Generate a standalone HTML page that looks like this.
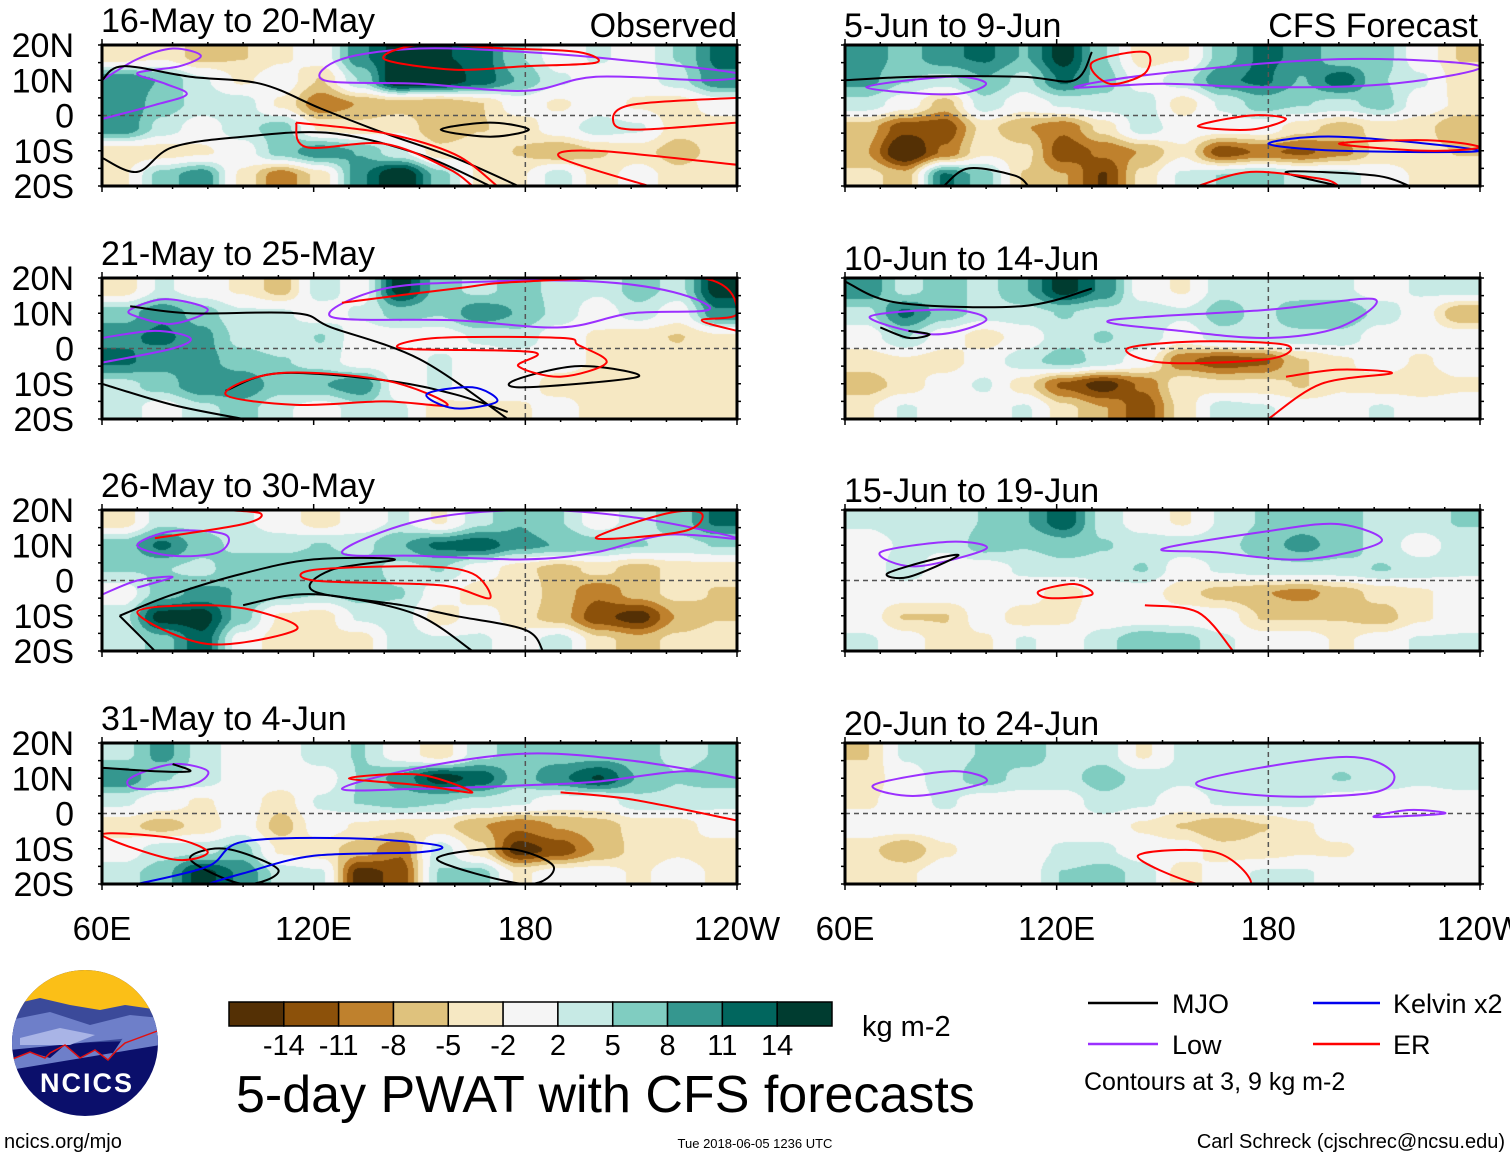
<!DOCTYPE html>
<html><head><meta charset="utf-8">
<style>
html,body{margin:0;padding:0;background:#fff;}
body{width:1510px;height:1158px;position:relative;overflow:hidden;font-family:"Liberation Sans",Arial,sans-serif;}
canvas{position:absolute;}
svg{position:absolute;left:0;top:0;}
</style></head>
<body>
<div id="maps"></div>
<svg id="ov" width="1510" height="1158" font-family="Liberation Sans, Arial, sans-serif"></svg>
<script>
// ---- data ----
const levelBounds=[-14,-11,-8,-5,-2,2,5,8,11,14];
const levelColors=["#543005","#8c510a","#bf812d","#dfc27d","#f6e8c3","#f5f5f5","#c7eae5","#80cdc1","#35978f","#01665e","#003c30"];
const latTicks=["20N","10N","0","10S","20S"];
const latTickVals=[20,10,0,-10,-20];
const lonTicks=["60E","120E","180","120W"];
const lonTickVals=[60,120,180,240];
const panelTitles=["16-May to 20-May","21-May to 25-May","26-May to 30-May","31-May to 4-Jun","5-Jun to 9-Jun","10-Jun to 14-Jun","15-Jun to 19-Jun","20-Jun to 24-Jun"];
const gridLats=[17,10,3,-3,-10,-17];
const f16May=[[-3,-2,-5,-4,-2,0,8,12,11,10,4,0,2,0,4,9],[8,6,2,-2,0,-4,4,14,13,10,6,2,0,0,3,8],[8,5,3,3,-2,-8,-6,-5,-6,-4,0,-2,0,-2,-3,0],[8,3,0,3,5,-2,-3,-2,-6,-4,-3,0,3,2,-3,-3],[-3,-3,-2,0,5,8,6,2,-3,-2,-4,-6,-4,-3,-5,-3],[-2,5,8,-2,-8,-3,8,14,5,-2,-2,3,-3,0,-3,-2]];
const f21May=[[-3,2,0,-2,-5,3,0,12,5,3,5,3,2,5,3,12],[5,8,5,2,2,0,2,5,4,8,6,3,0,3,0,8],[8,9,7,3,2,4,0,0,0,2,3,0,-2,-3,-4,-2],[9,7,7,5,4,3,0,0,2,0,0,0,-2,-2,-3,-2],[3,5,8,8,5,6,8,0,2,0,0,-3,-3,-2,-3,-2],[3,0,3,5,2,0,3,2,-3,-2,-2,0,-3,-2,-3,-2]];
const f26May=[[-3,3,3,2,0,-3,0,2,-2,3,6,4,0,3,5,9],[5,9,5,3,3,4,3,6,9,10,7,6,5,4,3,4],[4,4,3,6,6,6,5,3,4,0,-3,-5,-3,-5,-3,-3],[0,5,7,6,5,4,5,4,0,-3,-2,-5,-8,-5,-3,-4],[3,12,12,5,-2,-3,2,3,-3,0,-3,-5,-10,-12,-6,-4],[2,5,10,0,-3,-2,-3,3,2,2,0,3,-3,-5,-3,-2]];
const f31May=[[3,7,3,0,0,3,4,0,-3,3,5,5,5,5,3,4],[8,4,3,0,0,0,4,7,12,10,5,8,11,6,4,5],[2,0,-2,0,-3,2,4,5,4,3,2,0,0,3,3,2],[-3,-5,-3,0,-5,0,-2,-3,-3,-6,-8,-6,-5,-3,-3,0],[0,3,3,5,-2,-3,-5,-8,3,-3,-12,-10,-6,-3,-2,-3],[3,5,12,8,3,2,-12,-10,4,5,-2,0,0,-2,0,-2]];
const f5Jun=[[8,5,8,9,6,12,4,-3,-2,5,9,8,4,5,0,-4],[7,4,3,6,3,9,5,0,3,8,9,6,10,4,2,-3],[3,0,-5,3,0,2,3,3,-3,2,5,4,3,5,0,-2],[-5,-10,-10,-3,-6,-8,-3,3,0,0,0,-3,-5,-3,-3,-6],[-6,-14,-8,-2,-3,-10,-8,-6,-2,-10,-8,-9,-7,-3,-3,-4],[-3,-5,9,5,-4,-6,-11,-3,2,4,5,3,3,0,-2,-2]];
const f10Jun=[[8,3,5,3,6,12,8,0,-2,3,3,2,2,0,2,3],[3,9,5,3,3,4,3,3,2,5,3,6,6,3,0,-6],[0,4,0,-3,0,3,4,3,0,3,3,3,3,0,0,0],[-3,-2,-3,0,3,5,3,0,-8,-10,-9,-4,-2,0,-2,0],[-5,-3,0,2,-3,-9,-12,-8,-2,-3,-3,-4,-2,-3,-3,-2],[-2,2,0,0,2,-3,-6,-10,-3,3,2,0,0,2,0,0]];
const f15Jun=[[2,3,2,4,6,10,3,0,-2,2,4,5,5,3,3,4],[0,2,2,5,4,5,4,3,3,3,5,7,5,3,0,3],[0,3,0,0,2,3,3,4,0,2,3,3,3,4,3,2],[0,0,0,0,0,-3,0,0,-3,-5,-6,-7,-5,-3,-2,0],[0,-4,-4,0,-3,-2,0,0,0,0,-4,-4,-4,-5,-2,0],[2,0,-3,-2,2,0,3,6,5,2,0,0,-2,0,2,2]];
const f20Jun=[[-4,2,3,4,5,3,3,-2,2,3,3,3,3,2,3,3],[-3,0,3,5,3,3,5,3,2,3,3,3,4,3,2,3],[-2,0,2,0,0,0,3,2,0,2,2,2,0,0,0,0],[0,0,0,0,0,0,0,-2,-4,-6,-4,-2,0,0,0,0],[-3,-6,-2,0,0,2,2,0,0,-3,-3,-2,-2,0,0,0],[-2,-2,0,0,0,4,5,3,-3,0,2,2,0,0,0,0]];
const fields=[f16May,f21May,f26May,f31May,f5Jun,f10Jun,f15Jun,f20Jun];
const contours=[
[0,"low",[[123,10],[128,16],[150,19],[180,18],[205,16],[240,12],[232,10],[200,11],[180,7],[150,9],[123,10]]],
[0,"low",[[60,-1],[75,3],[84,6],[78,9],[70,12],[82,14],[88,17],[80,19],[70,16],[60,10]]],
[0,"mjo",[[60,10],[66,14],[85,11],[105,9],[122,2],[140,-5],[160,-12],[178,-20]]],
[0,"mjo",[[60,-12],[70,-16],[80,-9],[100,-6],[125,-5],[150,-11],[170,-20]]],
[0,"mjo",[[156,-4],[170,-2],[181,-4],[170,-6],[156,-4]]],
[0,"er",[[115,-2],[140,-5],[160,-11],[172,-20]]],
[0,"er",[[115,-2],[118,-9],[140,-8],[158,-15],[165,-20]]],
[0,"er",[[240,5],[210,3],[205,-2],[212,-4],[240,-2]]],
[0,"er",[[215,-20],[190,-12],[200,-10],[240,-14]]],
[0,"er",[[175,19],[150,20],[140,16],[160,13],[180,14],[200,15],[195,18],[175,19]]],
[1,"low",[[60,-4],[80,0],[85,3],[75,5],[60,3]]],
[1,"low",[[68,11],[78,14],[90,11],[80,7],[70,9],[68,11]]],
[1,"low",[[125,9],[140,17],[170,19],[200,19],[222,16],[232,11],[210,10],[190,6],[160,8],[125,9]]],
[1,"mjo",[[60,-10],[80,-16],[100,-20]]],
[1,"mjo",[[68,12],[85,10],[115,10],[125,6],[150,-3],[175,-20]]],
[1,"mjo",[[95,-12],[110,-7],[140,-9],[160,-13],[175,-18]]],
[1,"mjo",[[177,-9],[195,-5],[212,-8],[180,-11],[177,-9]]],
[1,"er",[[95,-13],[110,-7],[140,-9],[158,-16],[140,-15],[115,-16],[95,-13]]],
[1,"er",[[128,13],[160,17],[180,19],[230,20],[240,10],[230,8],[240,5]]],
[1,"er",[[145,0],[155,3],[190,3],[195,1],[203,-4],[190,-8],[178,-5],[182,-1],[145,0]]],
[1,"blue",[[152,-13],[165,-11],[172,-15],[160,-17],[152,-13]]],
[2,"low",[[60,-4],[70,0],[80,1],[70,-2]]],
[2,"low",[[70,10],[80,14],[95,13],[93,8],[80,7],[70,10]]],
[2,"low",[[128,8],[150,17],[180,20],[210,18],[240,12],[220,13],[200,8],[180,6],[150,7],[128,8]]],
[2,"mjo",[[65,-10],[80,-4],[100,2],[120,6],[143,6],[125,3],[120,-3],[145,-7],[160,-10],[180,-14],[185,-20]]],
[2,"mjo",[[65,-10],[75,-20]]],
[2,"mjo",[[100,-7],[115,-4],[130,-5],[150,-10],[165,-20]]],
[2,"er",[[70,-9],[90,-7],[105,-9],[115,-14],[90,-18],[70,-9]]],
[2,"er",[[120,3],[150,4],[165,2],[170,-5],[160,-2],[150,-1],[120,0],[120,3]]],
[2,"er",[[75,12],[100,16],[105,19],[95,20]]],
[2,"er",[[200,12],[225,14],[230,19],[220,19],[200,12]]],
[3,"low",[[68,10],[80,14],[90,12],[85,8],[70,7],[68,10]]],
[3,"low",[[128,7],[150,13],[180,17],[210,15],[240,10],[225,12],[200,9],[180,8],[150,7],[128,7]]],
[3,"mjo",[[85,-13],[95,-10],[110,-16],[100,-20],[85,-13]]],
[3,"mjo",[[155,-13],[175,-10],[188,-15],[180,-20],[155,-13]]],
[3,"mjo",[[60,13],[75,12],[85,12],[80,14]]],
[3,"er",[[60,-6],[80,-7],[90,-11],[80,-13],[60,-6]]],
[3,"er",[[130,10],[150,11],[165,6],[150,8],[130,10]]],
[3,"er",[[190,6],[210,4],[240,-2]]],
[3,"blue",[[70,-20],[90,-15],[100,-8],[130,-7],[155,-9],[150,-11],[120,-12],[100,-17],[90,-20]]],
[4,"low",[[66,8],[90,11],[100,9],[90,6],[66,8]]],
[4,"low",[[125,8],[150,12],[200,16],[240,14],[215,9],[180,8],[150,9],[125,8]]],
[4,"mjo",[[60,10],[80,11],[110,11],[125,10],[130,18]]],
[4,"mjo",[[88,-20],[95,-15],[108,-17],[112,-20]]],
[4,"mjo",[[200,-20],[185,-16],[210,-17],[220,-20]]],
[4,"blue",[[180,-8],[200,-6],[240,-10],[200,-10],[180,-8]]],
[4,"er",[[160,-3],[175,0],[185,-1],[175,-4],[160,-3]]],
[4,"er",[[200,-8],[225,-7],[240,-9],[225,-10],[200,-8]]],
[4,"er",[[130,15],[145,18],[145,12],[135,9],[130,15]]],
[4,"er",[[160,-20],[175,-16],[195,-18],[200,-20]]],
[5,"low",[[67,9],[90,11],[100,8],[85,4],[67,9]]],
[5,"low",[[135,8],[180,11],[210,14],[200,6],[180,3],[155,5],[135,8]]],
[5,"mjo",[[60,19],[75,13],[110,12],[130,17]]],
[5,"mjo",[[70,6],[78,3],[84,4],[78,5]]],
[5,"er",[[140,0],[160,2],[185,1],[180,-3],[150,-4],[140,0]]],
[5,"er",[[185,-8],[200,-6],[215,-7],[195,-10],[180,-20]]],
[6,"low",[[70,8],[90,11],[100,9],[80,4],[70,8]]],
[6,"low",[[150,9],[180,14],[200,16],[212,11],[190,6],[165,8],[150,9]]],
[6,"mjo",[[72,2],[85,6],[92,7],[78,1],[72,2]]],
[6,"er",[[115,-3],[125,-1],[130,-4],[118,-5],[115,-3]]],
[6,"er",[[145,-7],[160,-9],[170,-20]]],
[7,"low",[[68,8],[90,12],[100,9],[80,5],[68,8]]],
[7,"low",[[160,9],[200,16],[215,12],[210,6],[180,5],[160,9]]],
[7,"low",[[210,-1],[230,0],[220,1],[210,-1]]],
[7,"er",[[143,-12],[165,-11],[175,-20],[160,-20],[143,-12]]]
];
const contourColors={mjo:"#000",low:"#9b30ff",er:"#ff0000",blue:"#0000ee"};
const colorGain=1.3;

// ---- axes ----
const panelX=[102,845], panelW=635;
const rowTop=[45,278,510,743], panelH=141;
function xScale(col,lon){return panelX[col]+(lon-60)/180*panelW;}
function yScale(row,lat){return rowTop[row]+(20-lat)/40*panelH;}
function colorFor(v){let i=0;while(i<levelBounds.length&&v>=levelBounds[i])i++;return levelColors[i];}
function hexRgb(h){return [parseInt(h.substr(1,2),16),parseInt(h.substr(3,2),16),parseInt(h.substr(5,2),16)];}
function smoothPath(P){
  const closed=P.length>2&&P[0][0]===P[P.length-1][0]&&P[0][1]===P[P.length-1][1];
  let pts=closed?P.slice(0,-1):P.slice();
  const n=pts.length;
  const get=i=>closed?pts[(i+n)%n]:pts[Math.max(0,Math.min(n-1,i))];
  let d='M'+pts[0][0].toFixed(1)+' '+pts[0][1].toFixed(1);
  const segs=closed?n:n-1;
  for(let i=0;i<segs;i++){
    const p0=get(i-1),p1=get(i),p2=get(i+1),p3=get(i+2);
    const c1=[p1[0]+(p2[0]-p0[0])/6,p1[1]+(p2[1]-p0[1])/6];
    const c2=[p2[0]-(p3[0]-p1[0])/6,p2[1]-(p3[1]-p1[1])/6];
    d+=' C'+c1[0].toFixed(1)+' '+c1[1].toFixed(1)+' '+c2[0].toFixed(1)+' '+c2[1].toFixed(1)+' '+p2[0].toFixed(1)+' '+p2[1].toFixed(1);
  }
  return d+(closed?'Z':'');
}

const maps=document.getElementById('maps');
const NS="http://www.w3.org/2000/svg";
const ov=document.getElementById('ov');
function S(tag,attrs,parent){const e=document.createElementNS(NS,tag);for(const k in attrs)e.setAttribute(k,attrs[k]);(parent||ov).appendChild(e);return e;}

fields.forEach((F,pi)=>{
  const col=pi<4?0:1,row=pi%4;
  const cv=document.createElement('canvas');
  cv.width=panelW;cv.height=panelH;
  cv.style.left=panelX[col]+'px';cv.style.top=rowTop[row]+'px';
  
  
  maps.appendChild(cv);
  const ctx=cv.getContext('2d');const img=ctx.createImageData(panelW,panelH);
  const nc=F[0].length,nr=F.length;
  const lonStep=180/nc;
  for(let y=0;y<panelH;y++){
    const lat=20-y/panelH*40;
    let fr=(gridLats[0]-lat)/(gridLats[0]-gridLats[nr-1])*(nr-1);
    fr=Math.max(0,Math.min(nr-1.0001,fr));
    const r0=Math.floor(fr);let ty=fr-r0;ty=ty*ty*(3-2*ty);
    for(let x=0;x<panelW;x++){
      const lon=60+x/panelW*180;
      let fc=(lon-60)/lonStep-0.5;fc=Math.max(0,Math.min(nc-1.0001,fc));
      const c0=Math.floor(fc);let tx=fc-c0;tx=tx*tx*(3-2*tx);
      const a=F[r0][c0]*(1-tx)+F[r0][c0+1]*tx;
      const b=F[r0+1][c0]*(1-tx)+F[r0+1][c0+1]*tx;
      const v=(a*(1-ty)+b*ty)*colorGain;
      const c=hexRgb(colorFor(v));const o=(y*panelW+x)*4;
      img.data[o]=c[0];img.data[o+1]=c[1];img.data[o+2]=c[2];img.data[o+3]=255;
    }
  }
  ctx.putImageData(img,0,0);

  const g=S('g',{});
  
  
  S('line',{x1:panelX[col],x2:panelX[col]+panelW,y1:yScale(row,0),y2:yScale(row,0),stroke:'#555','stroke-width':1.5,'stroke-dasharray':'5,4'},g);
  S('line',{x1:xScale(col,180),x2:xScale(col,180),y1:rowTop[row],y2:rowTop[row]+panelH,stroke:'#555','stroke-width':1.5,'stroke-dasharray':'5,4'},g);
  const cp=S('clipPath',{id:'clip'+pi},g);
  S('rect',{x:panelX[col],y:rowTop[row],width:panelW,height:panelH},cp);
  const cg=S('g',{'clip-path':'url(#clip'+pi+')'},g);
  contours.filter(c=>c[0]===pi).forEach(c=>{
    const pts=c[2].map(p=>[xScale(col,p[0]),yScale(row,p[1])]);
    const pl=S('path',{d:smoothPath(pts),fill:'none',stroke:contourColors[c[1]],'stroke-width':2,'stroke-linejoin':'round'},cg);
    
    
  });
  S('rect',{x:panelX[col],y:rowTop[row],width:panelW,height:panelH,fill:'none',stroke:'#000','stroke-width':3},g);
  for(let lon=60;lon<=240;lon+=10){
    const major=lonTickVals.includes(lon);const x=xScale(col,lon);
    S('line',{x1:x,x2:x,y1:rowTop[row]-(major?6:3),y2:rowTop[row],stroke:'#000','stroke-width':1.5},g);
    S('line',{x1:x,x2:x,y1:rowTop[row]+panelH,y2:rowTop[row]+panelH+(major?6:3),stroke:'#000','stroke-width':1.5},g);
  }
  for(let lat=-20;lat<=20;lat+=5){
    const y=yScale(row,lat);
    S('line',{x1:panelX[col]-4,x2:panelX[col],y1:y,y2:y,stroke:'#000','stroke-width':1.5},g);
    S('line',{x1:panelX[col]+panelW,x2:panelX[col]+panelW+4,y1:y,y2:y,stroke:'#000','stroke-width':1.5},g);
  }
  const t=S('text',{x:panelX[col]-1,y:rowTop[row]-13+(col?5:0),'font-size':34,fill:'#000'},g);
  t.textContent=panelTitles[pi];
  
  
  if(col===0){
    latTicks.forEach((lb,i)=>{
      const tt=S('text',{x:74,y:yScale(row,latTickVals[i])+12,'font-size':34,'text-anchor':'end'},g);
      tt.textContent=lb;
      
      
    });
  }
});
let h=S('text',{x:737,y:37,'font-size':34,'text-anchor':'end'});h.textContent='Observed';


h=S('text',{x:1478,y:37,'font-size':34,'text-anchor':'end'});h.textContent='CFS Forecast';


[0,1].forEach(col=>{
  lonTicks.forEach((lb,i)=>{
    const tt=S('text',{x:xScale(col,lonTickVals[i]),y:940,'font-size':33,'text-anchor':'middle'});
    tt.textContent=lb;
    
    
  });
});
const cbX=229,cbY=1002,cbW=603,cbH=24,bw=cbW/levelColors.length;
levelColors.forEach((c,i)=>{
  const r=S('rect',{x:cbX+i*bw,y:cbY,width:bw,height:cbH,fill:c,stroke:'#000','stroke-width':1.5});
  
  
});
levelBounds.forEach((b,i)=>{
  const tt=S('text',{x:cbX+(i+1)*bw,y:1055,'font-size':29,'text-anchor':'middle'});
  tt.textContent=String(b);
  
  
});
</script>
<svg width="1510" height="1158" style="pointer-events:none" font-family="Liberation Sans, Arial, sans-serif">
  <text x="862" y="1036" font-size="29">kg m-2</text>
  <text x="236" y="1112" font-size="52">5-day PWAT with CFS forecasts</text>
  <g>
    <line x1="1088" y1="1003" x2="1158" y2="1003" stroke="#000" stroke-width="2.5"/>
    <text x="1172" y="1013" font-size="27">MJO</text>
    <line x1="1313" y1="1003" x2="1380" y2="1003" stroke="#0000ee" stroke-width="2.5"/>
    <text x="1393" y="1013" font-size="27">Kelvin x2</text>
    <line x1="1088" y1="1044" x2="1158" y2="1044" stroke="#9b30ff" stroke-width="2.5"/>
    <text x="1172" y="1054" font-size="27">Low</text>
    <line x1="1313" y1="1044" x2="1380" y2="1044" stroke="#ff0000" stroke-width="2.5"/>
    <text x="1393" y="1054" font-size="27">ER</text>
    <text x="1084" y="1090" font-size="25">Contours at 3, 9 kg m-2</text>
  </g>
  <text x="1505" y="1148" font-size="20" text-anchor="end">Carl Schreck (cjschrec@ncsu.edu)</text>
  <text x="755" y="1148" font-size="13" text-anchor="middle">Tue 2018-06-05 1236 UTC</text>
  <text x="4" y="1148" font-size="20">ncics.org/mjo</text>
  <g>
    <clipPath id="lc"><circle cx="85" cy="1043" r="73"/></clipPath>
    <g clip-path="url(#lc)">
      <rect x="10" y="968" width="150" height="150" fill="#0b0f6b"/>
      <rect x="10" y="968" width="150" height="45" fill="#fbbf17"/>
      <path d="M10 1005 L40 998 L70 1005 L100 1010 L125 1005 L160 1010 L160 1040 L10 1045 Z" fill="#3b4a9a"/>
      <path d="M10 1020 L50 1012 L90 1025 L130 1015 L160 1018 L160 1035 L10 1050 Z" fill="#6e7fc9"/>
      <path d="M20 1038 L60 1028 L95 1035 L70 1045 L20 1045 Z" fill="#a9b4e6"/>
      <path d="M10 1060 L30 1052 L50 1058 L65 1045 L80 1058 L95 1050 L108 1060 L115 1050 L125 1035 L160 1030 L160 1045 L10 1070 Z" fill="#6e7fc9"/>
      <path d="M10 1060 L30 1052 L45 1058 L50 1053 L65 1045 L80 1058 L95 1050 L108 1060 L117 1050 L125 1043 L160 1030" fill="none" stroke="#e01010" stroke-width="1.5"/>
    </g>
    <text x="87" y="1092" font-size="27" font-weight="bold" fill="#fff" text-anchor="middle" letter-spacing="2">NCICS</text>
  </g>
</svg>
</body></html>
